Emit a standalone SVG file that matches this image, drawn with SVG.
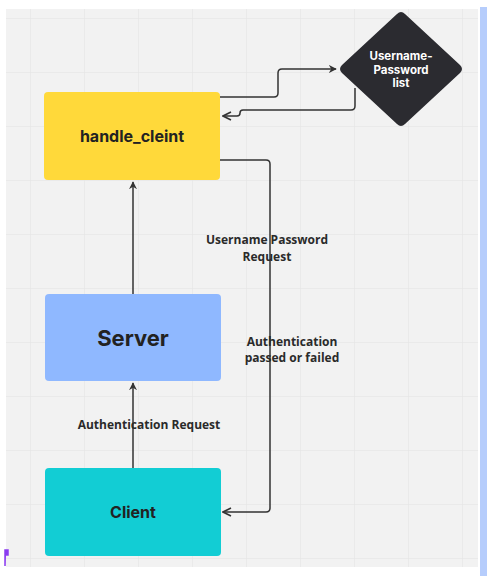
<svg xmlns="http://www.w3.org/2000/svg" width="491" height="576" viewBox="0 0 491 576">
<defs>
<pattern id="grid" x="30" y="18" width="54" height="54" patternUnits="userSpaceOnUse">
<path d="M0 0 V54 M0 0 H54" fill="none" stroke="#e2e2e2" stroke-width="1"/>
</pattern>
<marker id="arr" viewBox="0 0 10 10" refX="9" refY="5" markerWidth="8" markerHeight="8" markerUnits="userSpaceOnUse" orient="auto">
<path d="M0 0 L10 5 L0 10 L3 5 Z" fill="#333"/>
</marker>
<marker id="chevend" viewBox="0 0 10 10" refX="9" refY="5" markerWidth="10" markerHeight="10" markerUnits="userSpaceOnUse" orient="auto">
<path d="M1 1 L9 5 L1 9" fill="none" stroke="#333" stroke-width="1.6"/>
</marker>
</defs>
<style>
.edge{fill:none;stroke:#333;stroke-width:1.5;stroke-linejoin:round}
.lbl{font-family:"Open Sans","Liberation Sans",sans-serif;font-weight:bold;font-size:12px;fill:#2a2a2a;text-anchor:middle}
.nt{font-family:Inter,"Noto Sans","Liberation Sans",sans-serif;font-weight:bold;fill:#222;text-anchor:middle}
</style>
<rect x="0" y="0" width="491" height="576" fill="#ffffff"/>
<rect x="6" y="9" width="472" height="558" fill="#f2f2f2"/>
<rect x="6" y="9" width="472" height="558" fill="url(#grid)"/>
<rect x="480" y="7" width="7" height="569" fill="#b6cdfc"/>
<path d="M5 566 V550 H8 V555 H6" fill="#8b3cf0" stroke="#8b3cf0" stroke-width="1.5"/>

<g id="connectors">
<path class="edge" d="M133 468 V383" marker-end="url(#arr)"/>
<path class="edge" d="M133 294 V182" marker-end="url(#arr)"/>
<path class="edge" d="M220 160 H266 Q270 160 270 164 V508 Q270 512 266 512 H223" marker-end="url(#chevend)"/>
<path class="edge" d="M220 97 H274 Q278 97 278 93 V73 Q278 69 282 69 H336" marker-end="url(#arr)"/>
<path class="edge" d="M355 88 V106 Q355 110 351 110 H243 Q240 110 240 113 V113 Q240 116 237 116 H223" marker-end="url(#chevend)"/>
<text class="lbl" x="149" y="429">Authentication Request</text>
<text class="lbl" x="267" y="244">Username Password</text>
<text class="lbl" x="267" y="261">Request</text>
<text class="lbl" x="292" y="346">Authentication</text>
<text class="lbl" x="292" y="362">passed or failed</text>
</g>

<g id="handle_cleint">
<rect x="44" y="92" width="176" height="88" rx="4" fill="#ffd93a"/>
<text class="nt" x="132" y="142" font-size="16">handle_cleint</text>
</g>

<g id="server">
<rect x="45" y="294" width="176" height="87" rx="4" fill="#8fb8ff"/>
<text class="nt" x="133" y="346" font-size="22">Server</text>
</g>

<g id="client">
<rect x="45" y="468" width="176" height="88" rx="4" fill="#12cdd4"/>
<text class="nt" x="133" y="518" font-size="16">Client</text>
</g>

<g id="userlist">
<path d="M397 14 Q401 10 405 14 L460 65 Q464 69 460 73 L405 124 Q401 128 397 124 L342 73 Q338 69 342 65 Z" fill="#2b2b30"/>
<text class="nt" x="401" y="60" font-size="11.5" style="fill:#fff">Username-</text>
<text class="nt" x="401" y="74" font-size="11.5" style="fill:#fff">Password</text>
<text class="nt" x="401" y="87" font-size="11.5" style="fill:#fff">list</text>
</g>
</svg>
